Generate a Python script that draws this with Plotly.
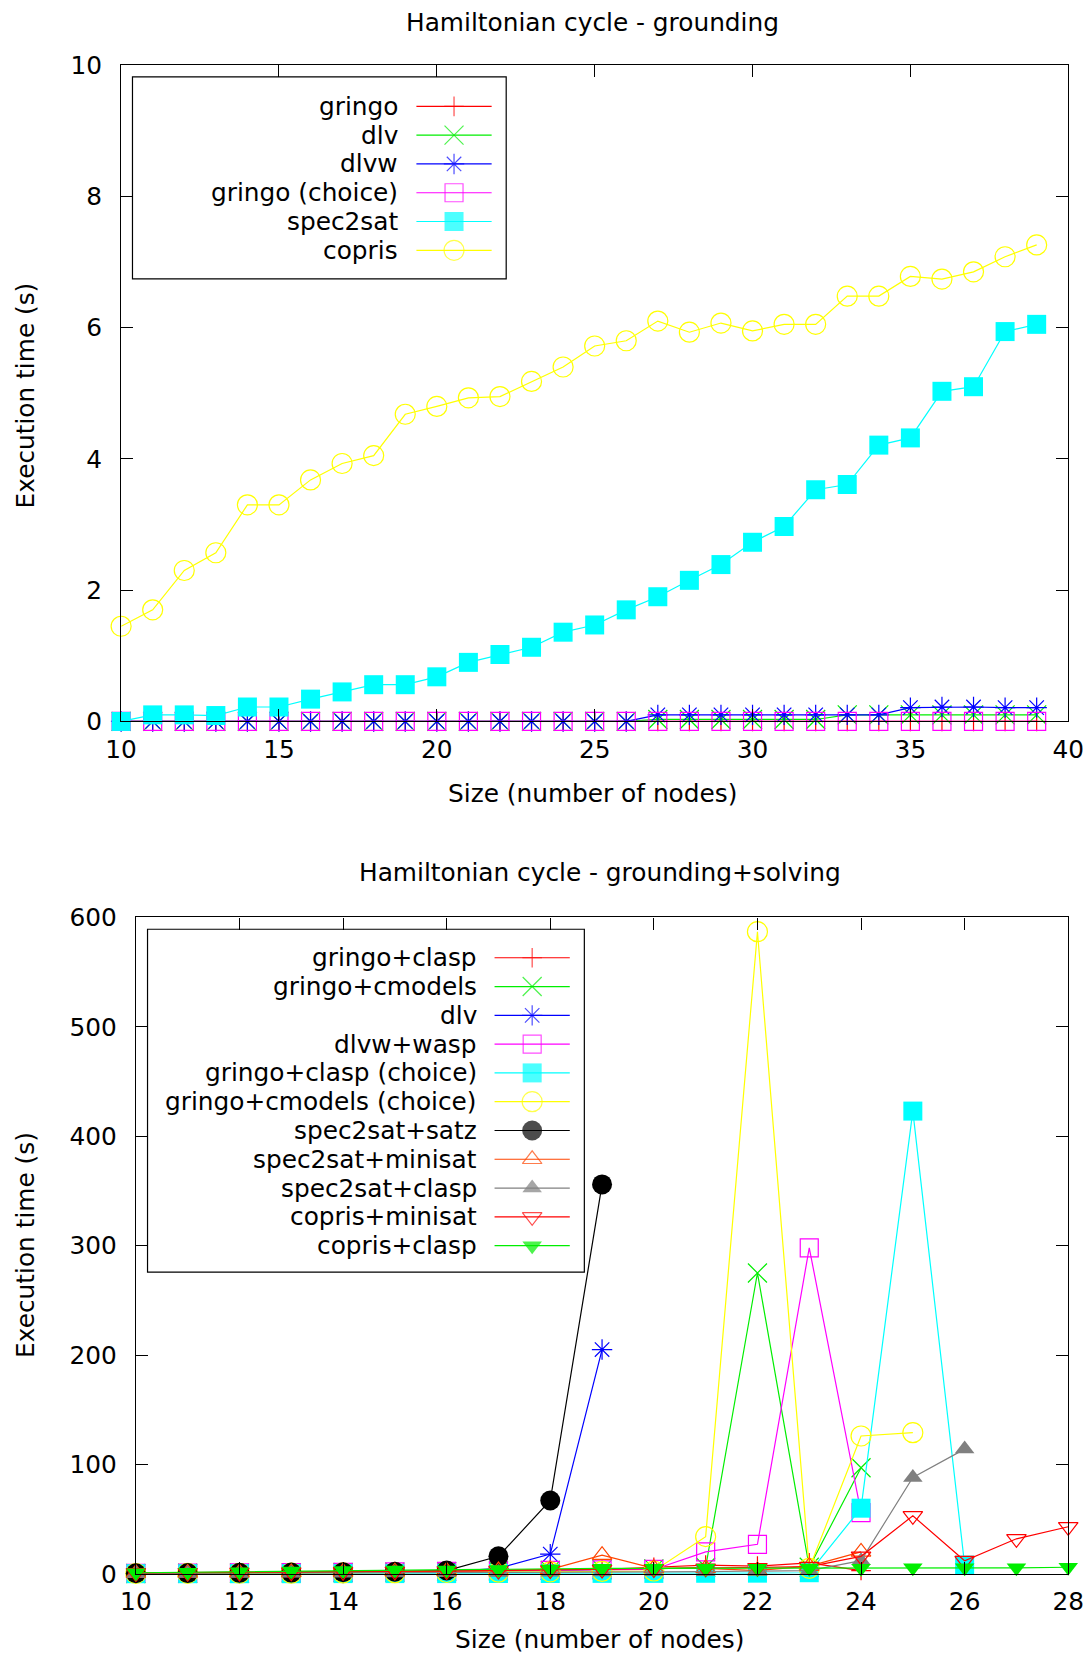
import plotly.graph_objects as go

# ---------------- data ----------------
sizes_ground = [10, 11, 12, 13, 14, 15, 16, 17, 18, 19, 20, 21, 22, 23, 24,
                25, 26, 27, 28, 29, 30, 31, 32, 33, 34, 35, 36, 37, 38, 39]
g_gringo = [0.00, 0.00, 0.00, 0.00, 0.00, 0.00, 0.00, 0.00, 0.00, 0.00, 0.00, 0.00, 0.00, 0.00, 0.00,
            0.00, 0.00, 0.00, 0.00, 0.00, 0.00, 0.00, 0.00, 0.00, 0.00, 0.00, 0.00, 0.00, 0.00, 0.00]
g_dlv = [0.00, 0.00, 0.00, 0.00, 0.00, 0.00, 0.00, 0.00, 0.00, 0.00, 0.00, 0.00, 0.00, 0.00, 0.00,
         0.00, 0.00, 0.03, 0.03, 0.03, 0.03, 0.03, 0.03, 0.10, 0.10, 0.10, 0.10, 0.10, 0.10, 0.10]
g_dlvw = [0.00, 0.00, 0.00, 0.00, 0.00, 0.00, 0.00, 0.00, 0.00, 0.00, 0.00, 0.00, 0.00, 0.00, 0.00,
          0.00, 0.00, 0.10, 0.10, 0.10, 0.10, 0.10, 0.10, 0.10, 0.10, 0.21, 0.22, 0.22, 0.21, 0.21]
g_gringo_choice = [0.00, 0.00, 0.00, 0.00, 0.00, 0.00, 0.00, 0.00, 0.00, 0.00, 0.00, 0.00, 0.00, 0.00, 0.00,
                   0.00, 0.00, 0.00, 0.00, 0.00, 0.00, 0.00, 0.00, 0.00, 0.00, 0.00, 0.00, 0.00, 0.00, 0.00]
g_spec2sat = [0.00, 0.10, 0.10, 0.09, 0.22, 0.22, 0.34, 0.45, 0.56, 0.56, 0.68, 0.90, 1.02, 1.13, 1.36,
              1.47, 1.70, 1.90, 2.15, 2.39, 2.73, 2.97, 3.53, 3.61, 4.21, 4.32, 5.03, 5.10, 5.94, 6.05]
g_copris = [1.45, 1.70, 2.30, 2.57, 3.30, 3.30, 3.68, 3.93, 4.05, 4.68, 4.80, 4.93, 4.95, 5.18, 5.40,
            5.72, 5.80, 6.10, 5.93, 6.07, 5.95, 6.05, 6.05, 6.48, 6.48, 6.78, 6.74, 6.85, 7.08, 7.26]

sizes_solve = [10, 11, 12, 13, 14, 15, 16, 17, 18, 19, 20, 21, 22, 23, 24, 25, 26, 27, 28]
s_gringo_clasp = [0.5, 0.6, 0.8, 1.0, 1.3, 2.0, 2.5, 3.0, 3.5, 4.0, 6.0, 8.0, 7.0, 10.0, 3.0]
s_gringo_cmodels = [0.3, 0.5, 0.7, 0.9, 1.2, 1.6, 2.0, 2.6, 3.2, 3.8, 4.5, 6.0, 275, 6.0, 97]
s_dlv = [0.2, 0.3, 0.4, 0.6, 0.8, 1.2, 1.8, 5.0, 18.0, 205]
s_dlvw_wasp = [0.5, 0.7, 0.9, 1.1, 1.4, 1.8, 2.2, 2.8, 3.2, 3.6, 4.0, 20, 27, 298, 56]
s_gringo_clasp_choice = [0.1, 0.1, 0.1, 0.1, 0.2, 0.2, 0.2, 0.3, 0.3, 0.4, 0.4, 0.5, 0.6, 1.0, 60, 423, 8]
s_gringo_cmodels_choice = [0.3, 0.4, 0.5, 0.6, 0.8, 1.0, 1.2, 1.5, 1.8, 2.2, 2.6, 34, 587, 5, 126, 129]
s_spec2sat_satz = [0.5, 0.7, 0.9, 1.1, 1.5, 2.0, 3.0, 16, 67, 356]
s_spec2sat_minisat = [0.6, 0.8, 1.0, 1.3, 1.6, 2.0, 2.5, 3.0, 4.0, 17, 5, 5, 3, 7, 20]
s_spec2sat_clasp = [0.2, 0.3, 0.4, 0.5, 0.6, 0.8, 1.0, 1.2, 1.4, 1.6, 1.8, 2.0, 2.5, 3.0, 12, 88, 114]
s_copris_minisat = [0.8, 1.0, 1.2, 1.5, 1.8, 2.2, 2.6, 3.0, 3.5, 4.0, 4.5, 5.0, 5.5, 6.5, 16, 53, 12, 32, 43]
s_copris_clasp = [1.0, 1.5, 2.0, 2.5, 3.0, 3.5, 3.5, 4.0, 4.5, 5.0, 5.0, 5.0, 5.0, 5.0, 5.0, 5.5, 5.5, 5.5, 6.0]

ground_xticks = [10, 15, 20, 25, 30, 35, 40]
ground_yticks = [0, 2, 4, 6, 8, 10]
solve_xticks = [10, 12, 14, 16, 18, 20, 22, 24, 26, 28]
solve_yticks = [0, 100, 200, 300, 400, 500, 600]

# ---------------- styles ----------------
W, H = 1092, 1663
FONT = "DejaVu Sans"
FS = 24.8

ground_series = [
    ("gringo", g_gringo, "#ff0000", "cross-thin-open", 14),
    ("dlv", g_dlv, "#00ee00", "x-thin-open", 19),
    ("dlvw", g_dlvw, "#0000ff", "asterisk-open", 17),
    ("gringo (choice)", g_gringo_choice, "#ff00ff", "square-open", 18),
    ("spec2sat", g_spec2sat, "#00ffff", "square", 19),
    ("copris", g_copris, "#ffff00", "circle-open", 20),
]
solve_series = [
    ("gringo+clasp", s_gringo_clasp, "#ff0000", "cross-thin-open", 14),
    ("gringo+cmodels", s_gringo_cmodels, "#00ee00", "x-thin-open", 19),
    ("dlv", s_dlv, "#0000ff", "asterisk-open", 17),
    ("dlvw+wasp", s_dlvw_wasp, "#ff00ff", "square-open", 18),
    ("gringo+clasp (choice)", s_gringo_clasp_choice, "#00ffff", "square", 19),
    ("gringo+cmodels (choice)", s_gringo_cmodels_choice, "#ffff00", "circle-open", 20),
    ("spec2sat+satz", s_spec2sat_satz, "#000000", "circle", 20),
    ("spec2sat+minisat", s_spec2sat_minisat, "#ff4500", "triangle-up-open", 17),
    ("spec2sat+clasp", s_spec2sat_clasp, "#808080", "triangle-up", 17),
    ("copris+minisat", s_copris_minisat, "#ff0000", "triangle-down-open", 17),
    ("copris+clasp", s_copris_clasp, "#00ee00", "triangle-down", 17),
]

# plot boxes in pixels
TOP = dict(l=108.3, r=1084, t=52, b=720)
BOT = dict(l=123.5, r=1084, t=919.5, b=1587.5)


def dom_x(b):
    return [b["l"] / W, b["r"] / W]


def dom_y(b):
    return [(H - b["b"]) / H, (H - b["t"]) / H]


fig = go.Figure()


def marker_for(color, symbol, size):
    filled = not symbol.endswith("-open")
    return dict(symbol=symbol, size=size, color=color,
                line=dict(color=color, width=0 if filled else 1.2))


for name, vals, color, sym, sz in ground_series:
    fig.add_trace(go.Scatter(
        x=sizes_ground[:len(vals)], y=vals, mode="lines+markers", name=name,
        line=dict(color=color, width=1.2), marker=marker_for(color, sym, sz),
        cliponaxis=False, xaxis="x", yaxis="y", showlegend=False))

for name, vals, color, sym, sz in solve_series:
    fig.add_trace(go.Scatter(
        x=sizes_solve[:len(vals)], y=vals, mode="lines+markers", name=name,
        line=dict(color=color, width=1.2), marker=marker_for(color, sym, sz),
        cliponaxis=False, xaxis="x2", yaxis="y2", showlegend=False))

# ---------------- custom gnuplot-style keys (pixel overlay axis) ----------------
annotations = []
shapes = []


def add_key(series, box, text_right, line_l, line_r, row0, dy):
    shapes.append(dict(type="rect", xref="x3", yref="y3",
                       x0=box[0], x1=box[1], y0=box[2], y1=box[3],
                       line=dict(color="black", width=1.2), fillcolor="rgba(0,0,0,0)"))
    for i, (name, vals, color, sym, sz) in enumerate(series):
        yy = row0 + i * dy
        annotations.append(dict(xref="x3", yref="y3", x=text_right, y=yy, text=name,
                                showarrow=False, xanchor="right", yanchor="middle",
                                font=dict(family=FONT, size=FS, color="black")))
        xs = [line_l, (line_l + line_r) / 2, line_r]
        fig.add_trace(go.Scatter(
            x=xs, y=[yy, yy, yy], mode="lines+markers",
            line=dict(color=color, width=1.2),
            marker=dict(symbol=sym, size=[0, sz, 0], color=color,
                        line=dict(color=color, width=0 if not sym.endswith("-open") else 1.2)),
            cliponaxis=False, xaxis="x3", yaxis="y3", showlegend=False, hoverinfo="skip"))


add_key(ground_series, (120, 505, 64, 269.5), 396, 412.5, 490, 94, 29.3)
add_key(solve_series, (135.5, 585.5, 931.5, 1280.5), 477, 493, 570.5, 960.5, 29.3)


def text(x, y, s, angle=0):
    annotations.append(dict(xref="x3", yref="y3", x=x, y=y, text=s, showarrow=False,
                            xanchor="center", yanchor="middle", textangle=angle,
                            font=dict(family=FONT, size=FS, color="black")))


text(593.5, 8.5, "Hamiltonian cycle - grounding")
text(593.5, 793, "Size (number of nodes)")
text(9.5, 388, "Execution time (s)", -90)
text(601.5, 874, "Hamiltonian cycle - grounding+solving")
text(601.5, 1654, "Size (number of nodes)")
text(9.5, 1252.5, "Execution time (s)", -90)

axis_common = dict(showline=True, linecolor="black", linewidth=1.2, mirror="ticks",
                   ticks="inside", ticklen=12, tickcolor="black", tickwidth=1,
                   showgrid=False, zeroline=False, fixedrange=True,
                   tickfont=dict(family=FONT, size=FS, color="black"))

fig.update_layout(
    width=W, height=H,
    margin=dict(l=0, r=0, t=0, b=0),
    paper_bgcolor="white", plot_bgcolor="rgba(0,0,0,0)",
    showlegend=False,
    xaxis=dict(domain=dom_x(TOP), anchor="y", range=[10, 40], tickvals=ground_xticks,
               ticklabelstandoff=6, ticklabeloverflow="allow", **axis_common),
    yaxis=dict(domain=dom_y(TOP), anchor="x", range=[0, 10], tickvals=ground_yticks,
               ticklabelstandoff=13, **axis_common),
    xaxis2=dict(domain=dom_x(BOT), anchor="y2", range=[10, 28], tickvals=solve_xticks,
                ticklabelstandoff=5, ticklabeloverflow="allow", **axis_common),
    yaxis2=dict(domain=dom_y(BOT), anchor="x2", range=[0, 600], tickvals=solve_yticks,
                ticklabelstandoff=13, **axis_common),
    xaxis3=dict(domain=[0, 1], anchor="y3", range=[0, W], visible=False, fixedrange=True),
    yaxis3=dict(domain=[0, 1], anchor="x3", range=[H, 0], visible=False, fixedrange=True),
    annotations=annotations, shapes=shapes,
)

fig.write_html("out.html")
